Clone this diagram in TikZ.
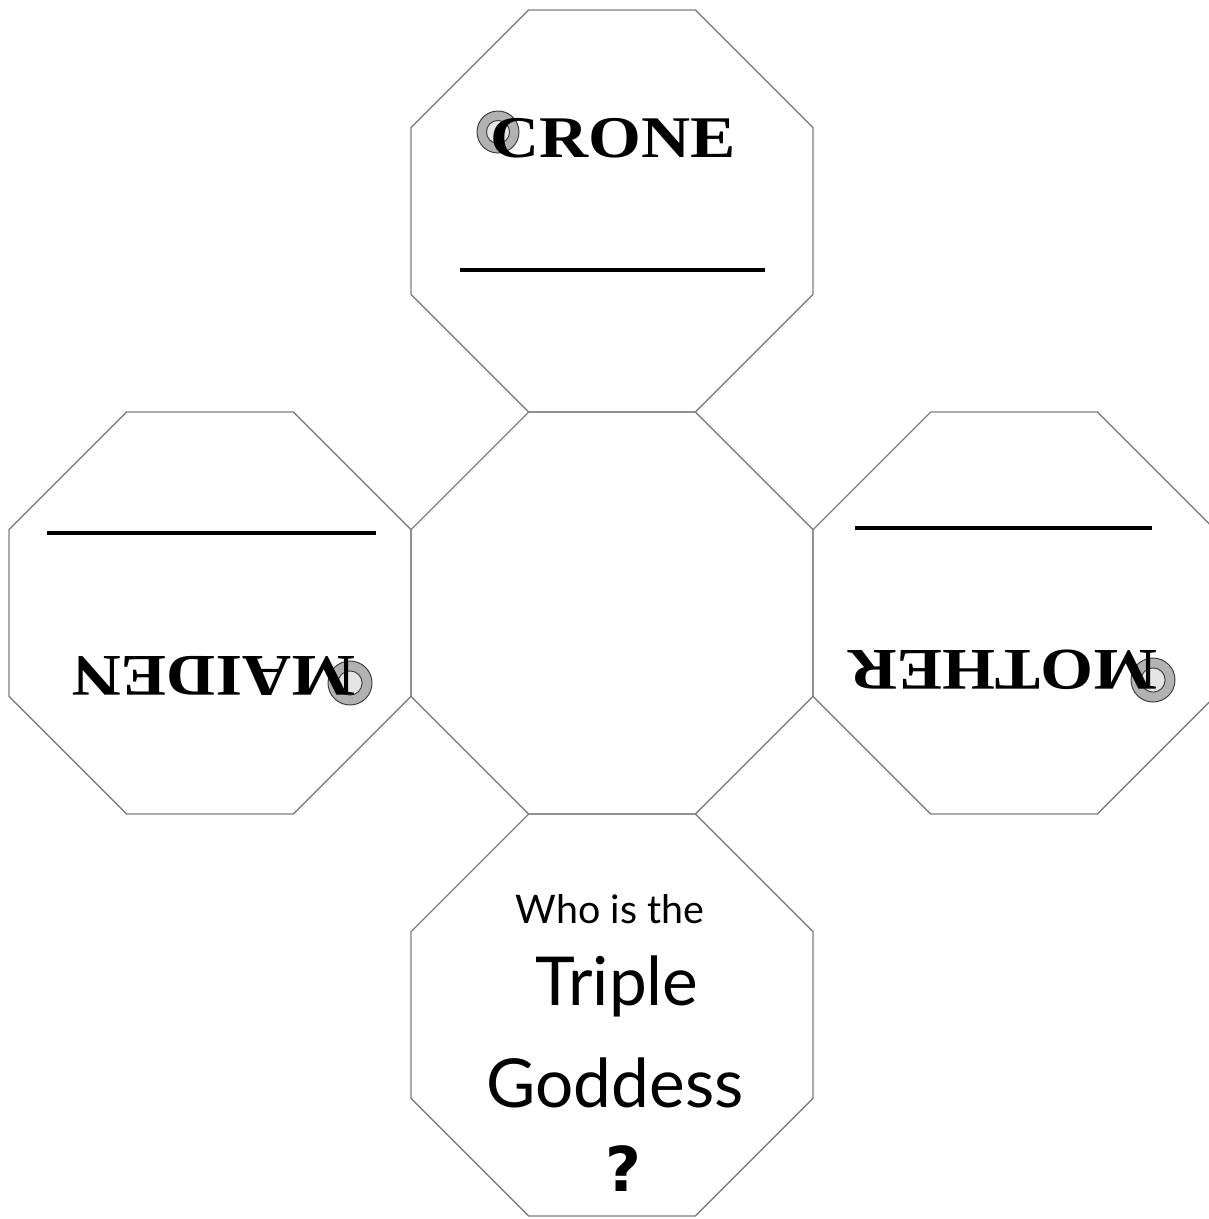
\documentclass[tikz,border=0pt]{standalone}
\usepackage{fontspec}
\newfontfamily\capsfont{Liberation Serif}
\newfontfamily\handfont{Lato}
\newfontfamily\markfont{DejaVu Sans}
\usetikzlibrary{shapes.geometric}

\begin{document}
\begin{tikzpicture}[x=0.025cm, y=-0.025cm]
\tikzset{face/.style={regular polygon, regular polygon sides=8, minimum size=10.88cm,
    inner sep=0pt, draw=black!50, line width=0.9pt}}
\tikzset{title/.style={font=\capsfont\bfseries\fontsize{42}{44}\selectfont, xscale=1.15, inner sep=0pt}}
\tikzset{ornament/.style={draw=black!75, fill=black!30, line width=0.7pt}}
\useasboundingbox (0,0) rectangle (1209,1219);
\fill[white] (0,0) rectangle (1209,1219);
% the five faces
\node[face] (crone)   at (612,211)  {};
\node[face] (hub)     at (612,613)  {};
\node[face] (maiden)  at (210,613)  {};
\node[face] (mother)  at (1014,613) {};
\node[face] (goddess) at (612,1015) {};
% writing lines
\draw[line width=2.2pt] (460,270) -- (765,270);
\draw[line width=2.2pt] (47,533) -- (376,533);
\draw[line width=2.2pt] (855,528) -- (1152,528);
% ornamented initials
\foreach \x/\y/\r in {498/132/21, 350/683/22, 1153/680/22} {
  \draw[ornament] (\x,\y) circle (\r);
  \draw[ornament, fill=black!10] (\x,\y) circle (\r*0.55);
}
\node[title] (crone title)  at (613,138) {CRONE};
\node[title, rotate=180] (maiden title) at (214,676) {MAIDEN};
\node[title, rotate=180] (mother title) at (1003,670) {MOTHER};
% the question
\begin{scope}[every node/.style={font=\handfont, anchor=base, inner sep=0pt}]
  \node (who)    at (610,923)  {\fontsize{28}{30}\selectfont Who is the};
  \node (triple) at (617,1005) {\fontsize{48}{50}\selectfont Triple};
  \node (name)   at (615,1107) {\fontsize{48}{50}\selectfont Goddess};
  \node (ask)    at (623,1191) {\markfont\bfseries\fontsize{44}{46}\selectfont ?};
\end{scope}
\end{tikzpicture}
\end{document}
